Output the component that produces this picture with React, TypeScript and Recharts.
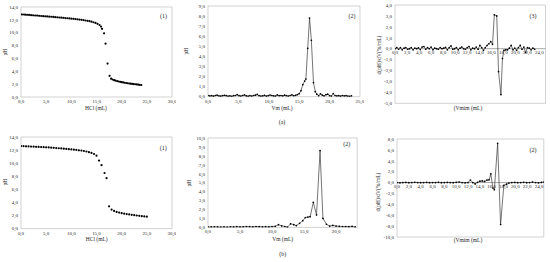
import React from 'react';
import { LineChart, Line, XAxis, YAxis, ReferenceArea, ReferenceLine } from 'recharts';

// ---- Data ----
const p1X = [0,0.4,0.8,1.2,1.6,2,2.4,2.8,3.2,3.6,4,4.4,4.8,5.2,5.6,6,6.4,6.8,7.2,7.6,8,8.4,8.8,9.2,9.6,10,10.4,10.8,11.2,11.6,12,12.4,12.8,13.2,13.6,14,14.4,14.8,15.2,15.6,15.9,16.1,16.5,16.8,17.2,17.6,17.9,18.2,18.5,18.8,19.1,19.4,19.7,20,20.3,20.6,20.9,21.2,21.5,21.8,22.1,22.4,22.7,23,23.3,23.6,23.9];
const p1Y = [12.85,12.83,12.8,12.78,12.76,12.73,12.7,12.68,12.66,12.63,12.6,12.58,12.55,12.53,12.5,12.48,12.45,12.42,12.4,12.37,12.34,12.31,12.28,12.25,12.22,12.19,12.16,12.12,12.08,12.04,12.0,11.96,11.9,11.85,11.8,11.72,11.63,11.52,11.38,11.2,10.95,10.6,9.9,8.3,5.2,3.3,2.85,2.72,2.62,2.54,2.47,2.41,2.36,2.31,2.26,2.22,2.18,2.14,2.1,2.07,2.04,2.01,1.98,1.95,1.92,1.9,1.87];

const p2X = [0,0.3,0.6,0.9,1.2,1.5,1.8,2.1,2.4,2.7,3,3.3,3.6,3.9,4.2,4.5,4.8,5.1,5.4,5.7,6,6.3,6.6,6.9,7.2,7.5,7.8,8.1,8.4,8.7,9,9.3,9.6,9.9,10.2,10.5,10.8,11.1,11.4,11.7,12,12.3,12.6,12.9,13.2,13.5,13.8,14.1,14.4,14.7,15.0,15.3,15.6,15.9,16.1,16.4,16.7,17.0,17.35,17.65,17.9,18.2,18.5,18.8,19.1,19.4,19.7,20,20.3,20.6,20.9,21.2,21.5,21.8,22.1,22.4,22.7,23,23.3,23.6];
const p2Y = [0.12,0.08,0.1,0.05,0.12,0.15,0.08,0.06,0.1,0.14,0.1,0.05,0.08,0.04,0.1,0.12,0.2,0.1,0.06,0.12,0.18,0.08,0.05,0.1,0.06,0.12,0.15,0.22,0.1,0.06,0.08,0.14,0.05,0.1,0.16,0.12,0.08,0.06,0.18,0.1,0.12,0.08,0.15,0.1,0.06,0.12,0.18,0.1,0.14,0.2,0.3,0.6,1.2,1.55,1.75,4.8,7.8,5.6,1.4,0.5,0.25,0.1,0.28,0.15,0.08,0.2,0.25,0.1,0.06,0.3,0.12,0.08,0.1,0.05,0.12,0.08,0.1,0.06,0.04,0.08];

const p3X = [0,0.3,0.6,0.9,1.2,1.5,1.8,2.1,2.4,2.7,3,3.3,3.6,3.9,4.2,4.5,4.8,5.1,5.4,5.7,6,6.3,6.6,6.9,7.2,7.5,7.8,8.1,8.4,8.7,9,9.3,9.6,9.9,10.2,10.5,10.8,11.1,11.4,11.7,12,12.3,12.6,12.9,13.2,13.5,13.8,14.1,14.4,14.7,15.0,15.3,15.6,15.9,16.2,16.5,16.9,17.2,17.6,17.85,18.1,18.4,18.7,19.0,19.3,19.6,19.9,20.2,20.5,20.8,21.1,21.4,21.7,22.0,22.3,22.6,22.9,23.2];
const p3Y = [0.0,0.1,-0.05,0.1,-0.1,0.05,0.1,-0.05,0.0,0.1,-0.1,0.05,0.0,0.08,-0.08,0.15,0.2,-0.05,0.1,0.0,0.15,-0.1,0.05,0.0,-0.05,0.1,0.0,0.05,0.12,-0.1,0.1,0.25,-0.05,0.0,0.1,-0.1,0.05,0.15,0.0,-0.05,0.1,0.2,-0.1,0.05,0.0,0.15,-0.05,0.3,0.1,-0.15,0.1,0.3,0.45,0.65,0.4,3.1,3.0,-2.1,-4.2,-0.9,-0.15,-0.1,-0.1,0.05,0.3,-0.1,0.05,-0.15,0.1,0.3,-0.05,0.15,-0.35,0.1,0.05,-0.1,0.05,-0.05];

const p4X = [0,0.5,1,1.5,2,2.5,3,3.5,4,4.5,5,5.5,6,6.5,7,7.5,8,8.5,9,9.5,10,10.5,11,11.5,12,12.5,13,13.5,14,14.5,15,15.5,16,16.6,17,17.5,18,18.5,19,19.5,20,20.5,21,21.5,22,22.5,23,23.5,24,24.5,25];
const p4Y = [12.62,12.6,12.58,12.56,12.54,12.52,12.5,12.48,12.46,12.44,12.42,12.4,12.37,12.34,12.31,12.28,12.25,12.22,12.18,12.14,12.1,12.06,12.02,11.97,11.92,11.86,11.78,11.68,11.56,11.4,11.15,10.4,9.7,8.5,7.7,3.4,2.9,2.7,2.55,2.45,2.35,2.28,2.22,2.16,2.1,2.05,2.0,1.95,1.9,1.86,1.82];

const p5X = [0,0.5,1,1.5,2,2.5,3,3.5,4,4.5,5,5.5,6,6.5,7,7.5,8,8.5,9,9.5,10,10.5,11.0,11.5,12.0,12.4,12.9,13.4,13.8,14.3,14.8,15.2,15.6,15.95,16.45,16.95,17.5,17.95,18.5,19.0,19.5,20.0,20.5,21.0,21.5,22.0,22.5,23.0];
const p5Y = [0.05,0.05,0.06,0.05,0.04,0.05,0.03,0.06,0.05,0.08,0.05,0.06,0.1,0.08,0.06,0.1,0.08,0.06,0.08,0.05,0.1,0.12,0.3,0.18,0.1,0.02,0.4,0.3,0.2,0.45,0.75,1.1,1.15,1.2,2.8,1.4,8.6,1.0,0.35,0.15,0.22,0.15,0.12,0.1,0.1,0.08,0.12,0.05];

const p6X = [0,0.5,1,1.5,2,2.5,3,3.5,4,4.5,5,5.5,6,6.5,7,7.5,8,8.5,9,9.5,10,10.5,11,11.5,12.0,12.4,12.8,13.2,13.6,14.0,14.4,14.8,15.2,15.55,15.85,16.2,16.45,17.0,17.5,18.05,18.5,18.9,19.4,19.9,20.4,20.9,21.4,21.9,22.4,22.9,23.4,23.9,24.4,24.8];
const p6Y = [0.0,-0.05,0.0,0.02,-0.03,0.0,0.05,0.0,-0.02,0.0,0.03,-0.02,0.0,0.0,0.05,-0.03,0.0,0.02,0.0,-0.02,0.05,0.1,0.0,-0.05,0.0,0.45,0.0,-0.25,0.05,0.25,0.3,0.2,0.45,0.5,1.6,-1.0,-1.3,7.2,-7.7,-0.5,-0.3,-0.1,0.0,0.02,-0.02,0.0,0.05,-0.03,0.0,0.08,0.0,-0.05,0.02,0.1];

const ticksPH = [0, 2, 4, 6, 8, 10, 12, 14];
const ticksX30 = [0, 5, 10, 15, 20, 25, 30];
const ticksX25 = [0, 5, 10, 15, 20, 25];
const ticksX20 = [0, 5, 10, 15, 20];
const ticksX24 = [0, 2, 4, 6, 8, 10, 12, 14, 16, 18, 20, 22, 24];
const ticksY9 = [0, 1, 2, 3, 4, 5, 6, 7, 8, 9];
const ticksY10 = [0, 1, 2, 3, 4, 5, 6, 7, 8, 9, 10];
const ticksY3 = [-5, -4, -3, -2, -1, 0, 1, 2, 3, 4];
const ticksY6 = [-10, -8, -6, -4, -2, 0, 2, 4, 6, 8];

const toRows = (xs: number[], ys: number[]) => xs.map((x, i) => ({ x, y: ys[i] }));

const FONT = 'Liberation Serif, Times New Roman, serif';
const TXT = '#262626';
const BORDER = '#bfbfbf';
const fmt = (v: number) => v.toFixed(1).replace('.', ',');
const tickStyle = { fontSize: 5, fill: TXT, fontFamily: FONT };

type PanelProps = {
  L: number; R: number; T: number; B: number;
  data: { x: number; y: number }[];
  xDomain: [number, number]; xTicks: number[];
  yDomain: [number, number]; yTicks: number[];
  lineMode: boolean; zeroAxis?: boolean;
};

function Panel({ L, R, T, B, data, xDomain, xTicks, yDomain, yTicks, lineMode, zeroAxis }: PanelProps) {
  const W = R - L + 26;
  const H = B - T + 18;
  const plotH = B - T;
  const shift = zeroAxis ? (plotH * (0 - yDomain[0])) / (yDomain[1] - yDomain[0]) : 0;
  const zeroTick = (p: any) => (
    <text x={p.x} y={p.y - shift + 2} dy="0.71em" textAnchor="middle" fontSize={5} fill={TXT} fontFamily={FONT}>
      {fmt(p.payload.value)}
    </text>
  );
  return (
    <div style={{ position: 'absolute', left: L - 22, top: T - 4, width: W, height: H }}>
      <LineChart width={W} height={H} data={data} margin={{ top: 4, right: 4, left: 0, bottom: 0 }}>
        <XAxis
          type="number" dataKey="x" domain={xDomain} ticks={xTicks} interval={0}
          axisLine={false} tickLine={false} tickSize={0} tickMargin={zeroAxis ? 0 : 2.5}
          height={14} tick={zeroAxis ? zeroTick : tickStyle} tickFormatter={fmt} allowDataOverflow
        />
        <YAxis
          type="number" domain={yDomain} ticks={yTicks} interval={0} width={22}
          axisLine={false} tickLine={false} tickSize={0} tickMargin={3}
          tick={tickStyle} tickFormatter={fmt} allowDataOverflow
        />
        <ReferenceArea x1={xDomain[0]} x2={xDomain[1]} y1={yDomain[0]} y2={yDomain[1]}
          fill="none" fillOpacity={0} stroke={BORDER} strokeWidth={0.7} />
        {zeroAxis && <ReferenceLine y={0} stroke="#7f7f7f" strokeWidth={0.7} />}
        <Line
          dataKey="y" type="linear" isAnimationActive={false}
          stroke={lineMode ? '#3a3a3a' : 'none'} strokeWidth={lineMode ? 0.7 : 0}
          dot={{ r: lineMode ? 0.85 : 1.1, fill: '#000', stroke: 'none' }}
          activeDot={false}
        />
      </LineChart>
    </div>
  );
}

const labels: { t: string; x: number; y: number; rot?: boolean; size?: number }[] = [
  { t: 'pH', x: 6, y: 52, rot: true },
  { t: 'HCl (mL)', x: 96, y: 108.5 },
  { t: '(1)', x: 163.5, y: 16.5, size: 6 },
  { t: 'pH', x: 187, y: 51, rot: true },
  { t: 'Vm (mL)', x: 282, y: 108.5 },
  { t: '(2)', x: 352, y: 16.5, size: 6 },
  { t: 'd(pH)/dV(%/mL)', x: 380, y: 55, rot: true },
  { t: '(Vmim (mL)', x: 468, y: 108.5 },
  { t: '(3)', x: 533, y: 16.5, size: 6 },
  { t: '(a)', x: 282, y: 122.5, size: 6 },
  { t: 'pH', x: 6, y: 182, rot: true },
  { t: 'HCl (mL)', x: 96.7, y: 240 },
  { t: '(1)', x: 163.3, y: 148.5, size: 6 },
  { t: 'pH', x: 190, y: 183, rot: true },
  { t: 'Vm (mL)', x: 282.7, y: 240 },
  { t: '(2)', x: 346.7, y: 145, size: 6 },
  { t: 'd(pH)/dV(%/mL)', x: 379, y: 192, rot: true },
  { t: '(Vmim (mL)', x: 468, y: 240.5 },
  { t: '(2)', x: 533, y: 150.5, size: 6 },
  { t: '(b)', x: 282.7, y: 254.5, size: 6 },
];

export default function App() {
  return (
    <div style={{ position: 'absolute', left: 0, top: 0, width: 550, height: 262, background: '#fff', overflow: 'hidden' }}>
      <Panel L={20.7} R={171.7} T={6.7} B={96.7} data={toRows(p1X, p1Y)}
        xDomain={[0, 30]} xTicks={ticksX30} yDomain={[0, 14]} yTicks={ticksPH} lineMode={false} />
      <Panel L={207.5} R={359.5} T={6} B={96.7} data={toRows(p2X, p2Y)}
        xDomain={[0, 25]} xTicks={ticksX25} yDomain={[0, 9]} yTicks={ticksY9} lineMode />
      <Panel L={394.5} R={545} T={5} B={103.3} data={toRows(p3X, p3Y)}
        xDomain={[0, 25]} xTicks={ticksX24} yDomain={[-5, 4]} yTicks={ticksY3} lineMode zeroAxis />
      <Panel L={20.7} R={171.7} T={136.7} B={228.3} data={toRows(p4X, p4Y)}
        xDomain={[0, 30]} xTicks={ticksX30} yDomain={[0, 14]} yTicks={ticksPH} lineMode={false} />
      <Panel L={208.3} R={357.5} T={138.3} B={227.7} data={toRows(p5X, p5Y)}
        xDomain={[0, 23.3]} xTicks={ticksX20} yDomain={[0, 10]} yTicks={ticksY10} lineMode />
      <Panel L={396.7} R={543.5} T={139.3} B={237.3} data={toRows(p6X, p6Y)}
        xDomain={[0, 24.8]} xTicks={ticksX24} yDomain={[-10, 8]} yTicks={ticksY6} lineMode zeroAxis />
      <svg width={550} height={262} style={{ position: 'absolute', left: 0, top: 0, pointerEvents: 'none' }}>
        {labels.map((l, i) => (
          <text key={i} x={l.x} y={l.y} textAnchor="middle" dominantBaseline="middle"
            fontSize={l.size ?? 5.5} fill={TXT} fontFamily={FONT}
            transform={l.rot ? `rotate(-90 ${l.x} ${l.y})` : undefined}>
            {l.t}
          </text>
        ))}
      </svg>
    </div>
  );
}
